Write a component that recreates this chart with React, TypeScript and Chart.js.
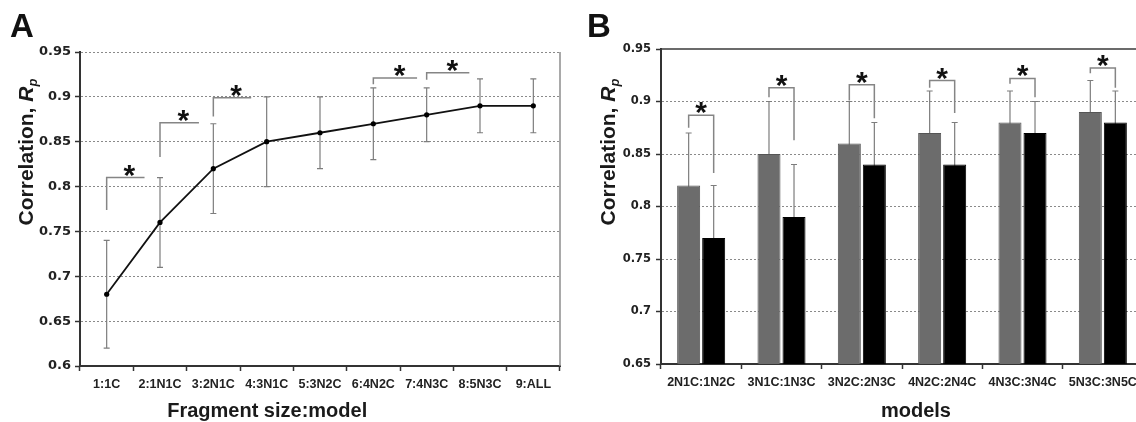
import React, { useEffect, useRef } from "react";
import { Chart, registerables } from "chart.js";

Chart.register(...registerables);

const SANS = '"Liberation Sans", Arial, sans-serif';
const WIDE = '"DejaVu Sans", sans-serif';

// ---------- Panel A data ----------
const categoriesA = ["1:1C", "2:1N1C", "3:2N1C", "4:3N1C", "5:3N2C", "6:4N2C", "7:4N3C", "8:5N3C", "9:ALL"];
const valuesA = [0.68, 0.76, 0.82, 0.85, 0.86, 0.87, 0.88, 0.89, 0.89];
const errorsA = [0.06, 0.05, 0.05, 0.05, 0.04, 0.04, 0.03, 0.03, 0.03];
const bracketStartA = [0, 1, 2, 5, 6];
const bracketEndA = [0.71, 1.73, 2.71, 5.82, 6.8];
const bracketTopA = [0.81, 0.871, 0.899, 0.921, 0.927];
const bracketBottomA = [0.774, 0.833, 0.878, 0.914, 0.919];
const tickValuesA = [0.6, 0.65, 0.7, 0.75, 0.8, 0.85, 0.9, 0.95];
const tickLabelsA = ["0.6", "0.65", "0.7", "0.75", "0.8", "0.85", "0.9", "0.95"];

// ---------- Panel B data ----------
const categoriesB = ["2N1C:1N2C", "3N1C:1N3C", "3N2C:2N3C", "4N2C:2N4C", "4N3C:3N4C", "5N3C:3N5C"];
const grayValuesB = [0.82, 0.85, 0.86, 0.87, 0.88, 0.89];
const grayErrorsB = [0.05, 0.05, 0.04, 0.04, 0.03, 0.03];
const blackValuesB = [0.77, 0.79, 0.84, 0.84, 0.87, 0.88];
const blackErrorsB = [0.05, 0.05, 0.04, 0.04, 0.03, 0.03];
const bracketTopB = [0.887, 0.913, 0.916, 0.92, 0.922, 0.932];
const bracketLeftBottomB = [0.875, 0.904, 0.901, 0.913, 0.917, 0.927];
const bracketRightBottomB = [0.832, 0.863, 0.884, 0.889, 0.904, 0.913];
const tickValuesB = [0.65, 0.7, 0.75, 0.8, 0.85, 0.9, 0.95];
const tickLabelsB = ["0.65", "0.7", "0.75", "0.8", "0.85", "0.9", "0.95"];

function drawYTitle(ctx: CanvasRenderingContext2D, cx: number, cy: number) {
  ctx.save();
  ctx.translate(cx, cy);
  ctx.rotate(-Math.PI / 2);
  ctx.fillStyle = "#1a1a1a";
  ctx.textBaseline = "alphabetic";
  ctx.textAlign = "left";
  const f1 = `bold 21px ${SANS}`;
  const f2 = `italic bold 21px ${SANS}`;
  const f3 = `italic bold 13px ${SANS}`;
  const t1 = "Correlation, ";
  ctx.font = f1;
  const w1 = ctx.measureText(t1).width;
  ctx.font = f2;
  const w2 = ctx.measureText("R").width;
  ctx.font = f3;
  const w3 = ctx.measureText("p").width;
  let x = -(w1 + w2 + w3) / 2;
  const base = 7.5;
  ctx.font = f1;
  ctx.fillText(t1, x, base);
  x += w1;
  ctx.font = f2;
  ctx.fillText("R", x, base);
  x += w2;
  ctx.font = f3;
  ctx.fillText("p", x, base + 4);
  ctx.restore();
}

function drawStar(ctx: CanvasRenderingContext2D, x: number, lineY: number) {
  ctx.save();
  ctx.fillStyle = "#111";
  ctx.font = `bold 30px ${SANS}`;
  ctx.textAlign = "center";
  ctx.textBaseline = "alphabetic";
  ctx.fillText("*", x, lineY + 7);
  ctx.restore();
}

function drawLetter(ctx: CanvasRenderingContext2D, t: string, x: number) {
  ctx.save();
  ctx.fillStyle = "#111";
  ctx.font = `bold 33px ${SANS}`;
  ctx.textAlign = "left";
  ctx.textBaseline = "alphabetic";
  ctx.fillText(t, x, 37);
  ctx.restore();
}

function drawXTitle(ctx: CanvasRenderingContext2D, t: string, x: number, y: number) {
  ctx.save();
  ctx.fillStyle = "#1a1a1a";
  ctx.font = `bold 20px ${SANS}`;
  ctx.textAlign = "center";
  ctx.textBaseline = "middle";
  ctx.fillText(t, x, y);
  ctx.restore();
}

const plotA = {
  id: "plotA",
  beforeDatasetsDraw(chart: any) {
    const { ctx, chartArea } = chart;
    const x = chart.scales.x;
    const y = chart.scales.y;
    ctx.save();
    ctx.strokeStyle = "#8c8c8c";
    ctx.lineWidth = 1.5;
    ctx.beginPath();
    ctx.moveTo(chartArea.right, chartArea.top);
    ctx.lineTo(chartArea.right, chartArea.bottom);
    ctx.stroke();

    ctx.strokeStyle = "#7d7d7d";
    ctx.lineWidth = 1.2;
    valuesA.forEach((v, i) => {
      const px = x.getPixelForValue(i);
      const top = y.getPixelForValue(v + errorsA[i]);
      const bot = y.getPixelForValue(v - errorsA[i]);
      ctx.beginPath();
      ctx.moveTo(px, top);
      ctx.lineTo(px, bot);
      ctx.moveTo(px - 3, top);
      ctx.lineTo(px + 3, top);
      ctx.moveTo(px - 3, bot);
      ctx.lineTo(px + 3, bot);
      ctx.stroke();
    });

    ctx.strokeStyle = "#858585";
    ctx.lineWidth = 1.5;
    bracketStartA.forEach((s, k) => {
      const x0 = x.getPixelForValue(s);
      const x1 = x.getPixelForValue(bracketEndA[k]);
      const yt = y.getPixelForValue(bracketTopA[k]);
      const yb = y.getPixelForValue(bracketBottomA[k]);
      ctx.beginPath();
      ctx.moveTo(x0, yb);
      ctx.lineTo(x0, yt);
      ctx.lineTo(x1, yt);
      ctx.stroke();
      drawStar(ctx, x0 + (x1 - x0) * 0.6, yt);
    });
    ctx.restore();
  },
  afterDraw(chart: any) {
    const { ctx, chartArea } = chart;
    drawLetter(ctx, "A", 10);
    drawYTitle(ctx, chartArea.left - 55, chartArea.top + 100);
    drawXTitle(ctx, "Fragment size:model", chartArea.left + (chartArea.right - chartArea.left) * 0.39, chartArea.bottom + 45);
  },
};

const plotB = {
  id: "plotB",
  beforeDatasetsDraw(chart: any) {
    const { ctx } = chart;
    const y = chart.scales.y;
    const g = chart.getDatasetMeta(0).data;
    const b = chart.getDatasetMeta(1).data;
    ctx.save();
    ctx.strokeStyle = "#7d7d7d";
    ctx.lineWidth = 1.2;
    const eb = (px: number, v: number, e: number) => {
      const top = y.getPixelForValue(v + e);
      const bot = y.getPixelForValue(v - e);
      ctx.beginPath();
      ctx.moveTo(px, top);
      ctx.lineTo(px, bot);
      ctx.moveTo(px - 3, top);
      ctx.lineTo(px + 3, top);
      ctx.stroke();
    };
    grayValuesB.forEach((v, i) => eb(g[i].x, v, grayErrorsB[i]));
    blackValuesB.forEach((v, i) => eb(b[i].x, v, blackErrorsB[i]));
    ctx.restore();
  },
  afterDatasetsDraw(chart: any) {
    const { ctx, chartArea } = chart;
    const y = chart.scales.y;
    const g = chart.getDatasetMeta(0).data;
    const b = chart.getDatasetMeta(1).data;
    ctx.save();
    ctx.strokeStyle = "#858585";
    ctx.lineWidth = 1.5;
    bracketTopB.forEach((t, i) => {
      const x0 = g[i].x;
      const x1 = b[i].x;
      const yt = y.getPixelForValue(t);
      ctx.beginPath();
      ctx.moveTo(x0, y.getPixelForValue(bracketLeftBottomB[i]));
      ctx.lineTo(x0, yt);
      ctx.lineTo(x1, yt);
      ctx.lineTo(x1, y.getPixelForValue(bracketRightBottomB[i]));
      ctx.stroke();
      drawStar(ctx, (x0 + x1) / 2, yt);
    });
    ctx.strokeStyle = "#3a3a3a";
    ctx.lineWidth = 1.5;
    ctx.beginPath();
    ctx.moveTo(chartArea.left, chartArea.top);
    ctx.lineTo(chartArea.right + 40, chartArea.top);
    ctx.stroke();
    ctx.restore();
  },
  afterDraw(chart: any) {
    const { ctx, chartArea } = chart;
    drawLetter(ctx, "B", 17);
    drawYTitle(ctx, chartArea.left - 54, chartArea.top + 103);
    drawXTitle(ctx, "models", chartArea.left + (chartArea.right - chartArea.left) * 0.529, chartArea.bottom + 47);
  },
};

const configA = (): any => ({
  type: "line",
  data: {
    labels: categoriesA,
    datasets: [
      {
        data: valuesA,
        borderColor: "#111",
        borderWidth: 1.8,
        pointRadius: 2.6,
        pointBackgroundColor: "#000",
        pointBorderColor: "#000",
        pointBorderWidth: 0,
        tension: 0,
        fill: false,
      },
    ],
  },
  options: {
    responsive: false,
    animation: false,
    devicePixelRatio: 1,
    layout: { padding: { top: 52, right: 10, left: 0, bottom: 0 }, autoPadding: false },
    plugins: { legend: { display: false }, tooltip: { enabled: false } },
    scales: {
      x: {
        offset: true,
        grid: { display: true, offset: true, drawOnChartArea: false, drawTicks: true, tickLength: 5, tickColor: "#333", tickWidth: 1.5 },
        border: { display: true, color: "#333", width: 2 },
        ticks: { autoSkip: false, maxRotation: 0, padding: 6, color: "#222", font: { family: SANS, weight: "bold", size: 12.5 } },
        afterFit: (s: any) => {
          s.height = 56;
        },
      },
      y: {
        min: 0.6,
        max: 0.95,
        afterBuildTicks: (s: any) => {
          s.ticks = tickValuesA.map((v) => ({ value: v }));
        },
        ticks: {
          callback: (_v: any, i: number) => tickLabelsA[i],
          padding: 4,
          color: "#222",
          font: { family: WIDE, weight: "bold", size: 13 },
        },
        grid: { color: "#8a8a8a", lineWidth: 1, tickLength: 5, tickColor: "#333", tickWidth: 1.5 },
        border: { display: true, color: "#333", width: 2, dash: [2, 2] },
        afterFit: (s: any) => {
          s.width = 80;
        },
      },
    },
  },
  plugins: [plotA],
});

const configB = (): any => ({
  type: "bar",
  data: {
    labels: categoriesB,
    datasets: [
      { data: grayValuesB, backgroundColor: "#6c6c6c", borderColor: "#555", borderWidth: 1, categoryPercentage: 0.623, barPercentage: 0.92 },
      { data: blackValuesB, backgroundColor: "#000", borderColor: "#000", borderWidth: 1, categoryPercentage: 0.623, barPercentage: 0.92 },
    ],
  },
  options: {
    responsive: false,
    animation: false,
    devicePixelRatio: 1,
    layout: { padding: { top: 49, right: 27, left: 0, bottom: 0 }, autoPadding: false },
    plugins: { legend: { display: false }, tooltip: { enabled: false } },
    scales: {
      x: {
        grid: { display: true, offset: true, drawOnChartArea: false, drawTicks: true, tickLength: 5, tickColor: "#333", tickWidth: 1.5 },
        border: { display: true, color: "#333", width: 2 },
        ticks: { autoSkip: false, maxRotation: 0, padding: 6, color: "#222", font: { family: SANS, weight: "bold", size: 12.5 } },
        afterFit: (s: any) => {
          s.height = 58;
        },
      },
      y: {
        min: 0.65,
        max: 0.95,
        afterBuildTicks: (s: any) => {
          s.ticks = tickValuesB.map((v) => ({ value: v }));
        },
        ticks: {
          callback: (_v: any, i: number) => tickLabelsB[i],
          padding: 5,
          color: "#222",
          font: { family: WIDE, weight: "bold", size: 11.5 },
        },
        grid: {
          color: (c: any) => (c.tick && c.tick.value > 0.949 ? "rgba(0,0,0,0)" : "#8a8a8a"),
          lineWidth: 1,
          tickLength: 5,
          tickColor: "#333",
          tickWidth: 1.5,
        },
        border: { display: true, color: "#333", width: 2, dash: [2, 2] },
        afterFit: (s: any) => {
          s.width = 91;
        },
      },
    },
  },
  plugins: [plotB],
});

function ChartCanvas({ make, left, width, height }: { make: () => any; left: number; width: number; height: number }) {
  const ref = useRef<HTMLCanvasElement | null>(null);
  useEffect(() => {
    if (!ref.current) return;
    const chart = new Chart(ref.current, make());
    return () => chart.destroy();
  }, []);
  return (
    <canvas
      ref={ref}
      width={width}
      height={height}
      style={{ position: "absolute", left, top: 0, width, height, display: "block" }}
    />
  );
}

export default function App() {
  return (
    <div
      style={{
        position: "fixed",
        left: 0,
        top: 0,
        width: 1136,
        height: 422,
        overflow: "hidden",
        background: "#fff",
      }}
    >
      <ChartCanvas make={configA} left={0} width={570} height={422} />
      <ChartCanvas make={configB} left={570} width={600} height={422} />
    </div>
  );
}
